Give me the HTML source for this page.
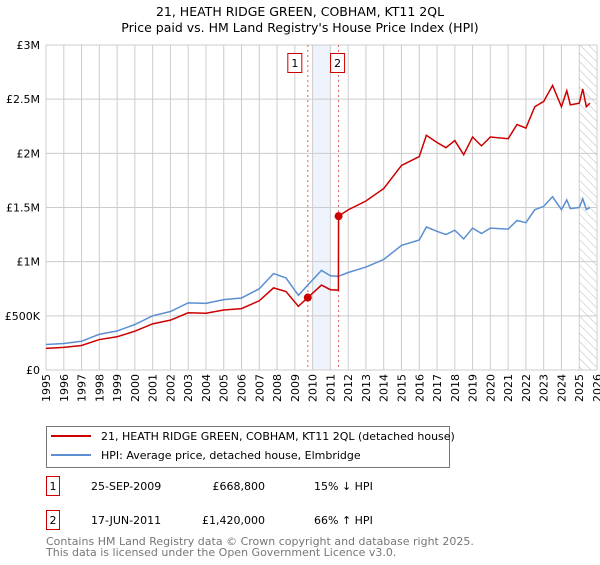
<!DOCTYPE html>
<html><head><meta charset="utf-8"><style>
body{margin:0;background:#fff;font-family:"Liberation Sans","DejaVu Sans",sans-serif;}
svg text{font-family:"DejaVu Sans","Liberation Sans",sans-serif;}
</style></head><body>
<svg id="c" width="600" height="560" viewBox="0 0 600 560" xmlns="http://www.w3.org/2000/svg">
<defs><pattern id="hatch" width="6" height="6" patternUnits="userSpaceOnUse" patternTransform="rotate(-45)"><line x1="0" y1="0" x2="0" y2="6" stroke="#bbb" stroke-width="1"/></pattern></defs>
<text x="300" y="16" text-anchor="middle" font-size="12.5" fill="#000">21, HEATH RIDGE GREEN, COBHAM, KT11 2QL</text>
<text x="300" y="32" text-anchor="middle" font-size="12.5" fill="#000">Price paid vs. HM Land Registry's House Price Index (HPI)</text>
<g id="grid"></g>
<g id="marks"></g>
<g>
<rect x="46.5" y="426.5" width="403" height="41" fill="#fff" stroke="#777"/>
<line x1="51" y1="436" x2="91" y2="436" stroke="#cc0000" stroke-width="2"/>
<text x="101" y="440" font-size="11">21, HEATH RIDGE GREEN, COBHAM, KT11 2QL (detached house)</text>
<line x1="51" y1="455" x2="91" y2="455" stroke="#5b8fd1" stroke-width="2"/>
<text x="101" y="459" font-size="11">HPI: Average price, detached house, Elmbridge</text>
</g>
<g font-size="11">
<rect x="46.5" y="476.5" width="13" height="19" fill="#fff" stroke="#cc0000"/><text x="53" y="490" text-anchor="middle">1</text>
<text x="91" y="490">25-SEP-2009</text><text x="265" y="490" text-anchor="end">£668,800</text><text x="314" y="490">15% ↓ HPI</text>
<rect x="46.5" y="510.5" width="13" height="19" fill="#fff" stroke="#cc0000"/><text x="53" y="524" text-anchor="middle">2</text>
<text x="91" y="524">17-JUN-2011</text><text x="265" y="524" text-anchor="end">£1,420,000</text><text x="314" y="524">66% ↑ HPI</text>
</g>
<text x="46" y="545" font-size="11" fill="#777">Contains HM Land Registry data © Crown copyright and database right 2025.</text>
<text x="46" y="556" font-size="11" fill="#777">This data is licensed under the Open Government Licence v3.0.</text>
</svg>
<script>
const yearTicks=[1995,1996,1997,1998,1999,2000,2001,2002,2003,2004,2005,2006,2007,2008,2009,2010,2011,2012,2013,2014,2015,2016,2017,2018,2019,2020,2021,2022,2023,2024,2025,2026];
const valueTicks=[0,500000,1000000,1500000,2000000,2500000,3000000];
const valueTickLabels=["£0","£500K","£1M","£1.5M","£2M","£2.5M","£3M"];
const hpiDates=[1995,1996,1997,1998,1999,2000,2001,2002,2003,2004,2005,2006,2007,2007.8,2008.5,2009.2,2009.73,2010.5,2011,2011.46,2012,2013,2014,2015,2016,2016.4,2017,2017.5,2018,2018.5,2019,2019.5,2020,2021,2021.5,2022,2022.5,2023,2023.5,2024,2024.3,2024.5,2025,2025.2,2025.4,2025.6];
const hpiValues=[235,245,265,330,360,420,500,540,620,615,650,665,750,890,850,690,785,920,870,865,900,950,1020,1150,1200,1320,1280,1250,1290,1210,1310,1260,1310,1300,1380,1360,1480,1510,1600,1480,1570,1490,1500,1580,1480,1500];
const priceDates=[1995,1996,1997,1998,1999,2000,2001,2002,2003,2004,2005,2006,2007,2007.8,2008.5,2009.2,2009.73,2010.5,2011,2011.45,2011.46,2012,2013,2014,2015,2016,2016.4,2017,2017.5,2018,2018.5,2019,2019.5,2020,2021,2021.5,2022,2022.5,2023,2023.5,2024,2024.3,2024.5,2025,2025.2,2025.4,2025.6];
const priceValues=[200,209,226,281,307,358,426,460,528,524,554,567,639,758,724,588,669,784,741,737,1420,1478,1560,1675,1888,1970,2167,2100,2052,2118,1987,2151,2069,2151,2135,2266,2233,2430,2479,2627,2430,2578,2447,2463,2594,2430,2463];
const saleDates=[2009.73,2011.46];
const saleValues=[668800,1420000];
const saleLabels=["1","2"];

const X0=46,X1=597,Y0=370,Y1=45;
const x=y=>X0+(y-1995)/(2026-1995)*(X1-X0);
const yv=v=>Y0-v/3000000*(Y0-Y1);
const NS="http://www.w3.org/2000/svg";
function mk(tag,attrs,parent){const e=document.createElementNS(NS,tag);for(const k in attrs)e.setAttribute(k,attrs[k]);parent.appendChild(e);return e;}
const grid=document.getElementById('grid'),marks=document.getElementById('marks');
// band + hatch
const band=mk('rect',{x:x(2010),y:Y1,width:x(2011)-x(2010),height:Y0-Y1,fill:'#eef3fc'},grid);


const hat=mk('rect',{x:x(2025),y:Y1,width:X1-x(2025),height:Y0-Y1,fill:'url(#hatch)'},grid);


yearTicks.forEach(t=>{
  const l=mk('line',{x1:x(t),x2:x(t),y1:Y1,y2:Y0,stroke:'#ccc','stroke-width':1},grid);
  
  
  const tx=mk('text',{x:0,y:0,'font-size':11,'text-anchor':'end',transform:`translate(${x(t)+4},${Y0+4}) rotate(-90)`},grid);
  tx.textContent=t;
  
  
});
valueTicks.forEach((v,i)=>{
  const l=mk('line',{x1:X0,x2:X1,y1:yv(v),y2:yv(v),stroke:'#ccc','stroke-width':1},grid);
  
  
  const tx=mk('text',{x:X0-6,y:yv(v)+4,'font-size':11,'text-anchor':'end'},grid);
  tx.textContent=valueTickLabels[i];
  
  
});
saleDates.forEach((d,i)=>{
  const l=mk('line',{x1:x(d),x2:x(d),y1:Y1,y2:Y0,stroke:'#e06666','stroke-width':1,'stroke-dasharray':'2,3'},marks);
  
  
  const bx=x(d)-(i===0?13:1)-7;
  const r=mk('rect',{x:bx,y:53.5,width:14,height:19,fill:'#fff',stroke:'#cc0000'},marks);
  
  
  const t=mk('text',{x:bx+7,y:67,'font-size':11,'text-anchor':'middle'},marks);
  t.textContent=saleLabels[i];
  
  
});
const hp=mk('polyline',{points:hpiDates.map((d,i)=>x(d)+','+yv(hpiValues[i]*1000)).join(' '),fill:'none',stroke:'#5b8fd1','stroke-width':1.5},marks);


const pp=mk('polyline',{points:priceDates.map((d,i)=>x(d)+','+yv(priceValues[i]*1000)).join(' '),fill:'none',stroke:'#cc0000','stroke-width':1.5},marks);


saleDates.forEach((d,i)=>{
  const c=mk('circle',{cx:x(d),cy:yv(saleValues[i]),r:4,fill:'#cc0000'},marks);
  
  
});
</script>
</body></html>
